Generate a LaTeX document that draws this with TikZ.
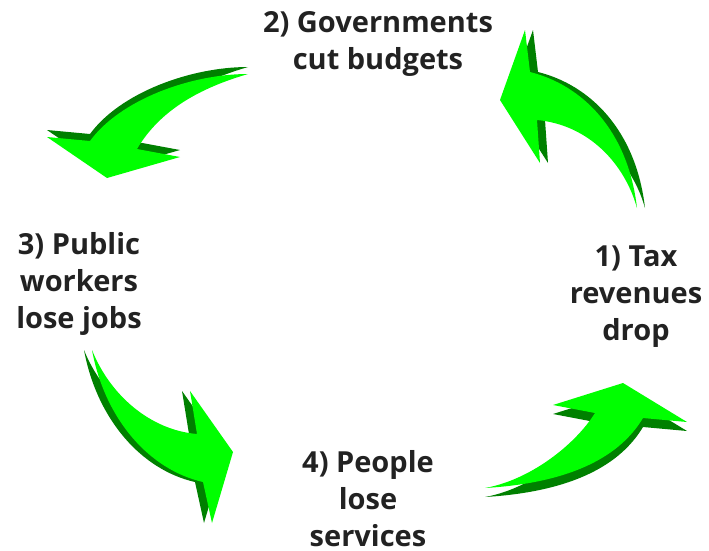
\documentclass[tikz,border=0pt]{standalone}
\usepackage{fontspec}
\setmainfont{Open Sans}
\begin{document}
\begin{tikzpicture}[x=1pt,y=-1pt,
  lbl/.style={align=center,text=textgray,font=\fontsize{29}{37}\selectfont\bfseries,inner sep=0pt}]
\definecolor{brightgreen}{RGB}{0,255,0}
\definecolor{darkgreen}{RGB}{0,128,0}
\definecolor{textgray}{RGB}{34,34,34}
\useasboundingbox (0,0) rectangle (709,550);

% arrow 1 (bottom right, up-right)
\def\arrowA{(485,488) .. controls (530,480) and (575,445) .. (595,413) -- (553,405) -- (623,383) -- (687,422) -- (643,418) .. controls (625,448) and (585,482) .. (485,488) -- cycle}
\begin{scope}[yshift=-9pt]\fill[darkgreen] \arrowA;\end{scope}
\fill[brightgreen] \arrowA;

% arrow 2 (right top, up-left)
\def\arrowB{(637,208) .. controls (625,165) and (590,125) .. (537,120) -- (540,163) -- (500,100) -- (525,30) -- (530,72) .. controls (582,85) and (628,130) .. (637,208) -- cycle}
\begin{scope}[xshift=8pt]\fill[darkgreen] \arrowB;\end{scope}
\fill[brightgreen] \arrowB;

% arrow 3 (top left, down-left)
\def\arrowC{(248,74) .. controls (190,74) and (120,100) .. (90,141) -- (47,137) -- (107,178) -- (180,157) -- (137,149) .. controls (160,110) and (200,88) .. (248,74) -- cycle}
\begin{scope}[yshift=7pt]\fill[darkgreen] \arrowC;\end{scope}
\fill[brightgreen] \arrowC;

% arrow 4 (left bottom, down-right)
\def\arrowD{(92,350) .. controls (110,395) and (150,430) .. (197,434) -- (190,391) -- (233,452) -- (212,523) -- (203,482) .. controls (150,470) and (105,420) .. (92,350) -- cycle}
\begin{scope}[xshift=-8pt]\fill[darkgreen] \arrowD;\end{scope}
\fill[brightgreen] \arrowD;

\node[lbl] (t1) at (636,297) {1) Tax\\revenues\\drop};
\node[lbl] (t2) at (378,44) {2) Governments\\cut budgets};
\node[lbl] (t3) at (79,284) {3) Public\\workers\\lose jobs};
\node[lbl,anchor=south] (t4) at (368,547) {4) People\\lose\\services};
\end{tikzpicture}
\end{document}
